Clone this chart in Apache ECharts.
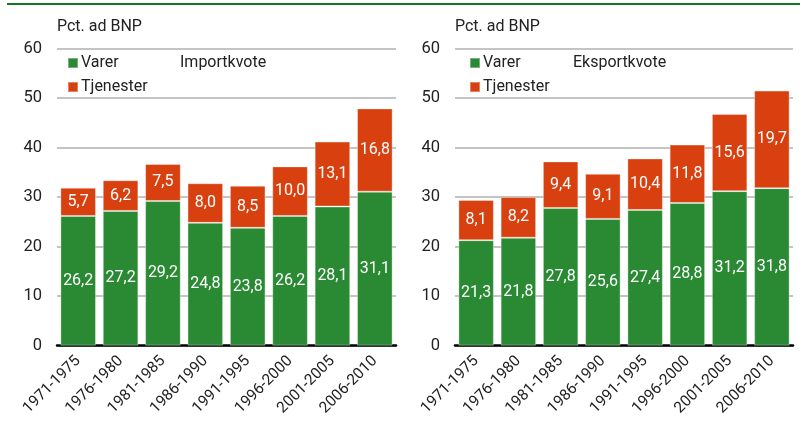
<!DOCTYPE html>
<html>
<head>
<meta charset="utf-8">
<script src="https://cdn.jsdelivr.net/npm/echarts@6/dist/echarts.min.js"></script>
<style>
  html, body { margin: 0; padding: 0; background: #fff; }
  #chart { width: 802px; height: 422px; }
</style>
</head>
<body>
<div id="chart"></div>
<script>
const categories = ['1971-1975', '1976-1980', '1981-1985', '1986-1990', '1991-1995', '1996-2000', '2001-2005', '2006-2010']
const importVarer = [26.2, 27.2, 29.2, 24.8, 23.8, 26.2, 28.1, 31.1]
const importTjenester = [5.7, 6.2, 7.5, 8.0, 8.5, 10.0, 13.1, 16.8]
const eksportVarer = [21.3, 21.8, 27.8, 25.6, 27.4, 28.8, 31.2, 31.8]
const eksportTjenester = [8.1, 8.2, 9.4, 9.1, 10.4, 11.8, 15.6, 19.7]

const green = '#2a8a33'
const red = '#d8400f'
const font = 'Roboto'

const chart = echarts.init(document.getElementById('chart'))

const fmt = p => p.value.toFixed(1).replace('.', ',')

const barSeries = (name, data, color, idx, stack) => ({
  name: name,
  type: 'bar',
  stack: stack,
  xAxisIndex: idx,
  yAxisIndex: idx,
  data: data,
  barCategoryGap: '16%',
  itemStyle: { color: color, borderColor: 'rgba(255,255,255,0.35)', borderWidth: 1 },
  label: {
    show: true,
    position: 'inside',
    color: '#fff',
    fontFamily: font,
    fontSize: 16,
    formatter: fmt
  }
})

const xAxis = idx => ({
  type: 'category',
  gridIndex: idx,
  data: categories,
  axisLine: { lineStyle: { color: '#000', width: 2.5 } },
  axisTick: { show: false },
  axisLabel: { rotate: 45, color: '#222', fontFamily: font, fontSize: 15.5, margin: 13, interval: 0 }
})

const yAxis = idx => ({
  type: 'value',
  gridIndex: idx,
  min: 0,
  max: 60,
  interval: 10,
  axisLine: { show: false },
  axisTick: { show: false },
  axisLabel: { color: '#222', fontFamily: font, fontSize: 16.5, margin: 15 },
  splitLine: { lineStyle: { color: '#b0b0b0', width: 1.5 } }
})

const legend = left => ({
  orient: 'vertical',
  left: left,
  top: 50,
  itemWidth: 10,
  itemHeight: 10,
  itemGap: 8,
  icon: 'rect',
  data: ['Varer', 'Tjenester'],
  textStyle: { color: '#222', fontFamily: font, fontSize: 16, padding: [0, 0, 0, -2] },
  selectedMode: false
})

const titleText = { fontFamily: font, fontSize: 16, fontWeight: 'normal', color: '#222' }

chart.setOption({
  animation: false,
  textStyle: { fontFamily: font },
  graphic: [{
    type: 'line',
    shape: { x1: 7, y1: 4, x2: 800, y2: 4 },
    style: { stroke: '#127a1c', lineWidth: 2 }
  }],
  title: [
    { text: 'Pct. ad BNP', left: 52, top: 14, textStyle: titleText },
    { text: 'Importkvote', left: 175, top: 50, textStyle: titleText },
    { text: 'Pct. ad BNP', left: 450, top: 14, textStyle: titleText },
    { text: 'Eksportkvote', left: 568, top: 50, textStyle: titleText }
  ],
  legend: [legend(62), legend(464)],
  grid: [
    { left: 57, right: 406, top: 48.5, bottom: 76.3 },
    { left: 455, right: 9, top: 48.5, bottom: 76.3 }
  ],
  xAxis: [xAxis(0), xAxis(1)],
  yAxis: [yAxis(0), yAxis(1)],
  series: [
    barSeries('Varer', importVarer, green, 0, 'imp'),
    barSeries('Tjenester', importTjenester, red, 0, 'imp'),
    barSeries('Varer', eksportVarer, green, 1, 'eks'),
    barSeries('Tjenester', eksportTjenester, red, 1, 'eks')
  ]
})
</script>
</body>
</html>
